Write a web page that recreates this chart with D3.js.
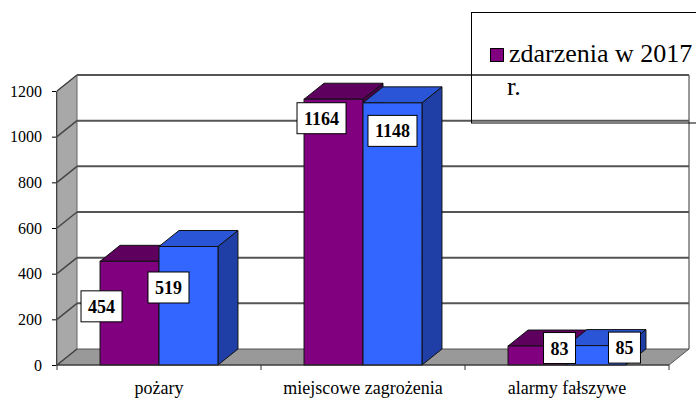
<!DOCTYPE html>
<meta charset="utf-8">
<style>
body { margin: 0; background: #fff; }
svg { display: block; }
</style>
<body></body>
<script src="https://cdnjs.cloudflare.com/ajax/libs/d3/7.8.5/d3.min.js"></script>
<script>

// data
var categories = ["pożary", "miejscowe zagrożenia", "alarmy fałszywe"];
var series = ["zdarzenia w 2017 r.", "zdarzenia w 2018 r."];
var values2017 = [454, 1164, 83];
var values2018 = [519, 1148, 85];
var yTicks = [0, 200, 400, 600, 800, 1000, 1200];

// label nudges (Excel put the boxes by hand, more or less)
var labelNudge = [
  [[-28, 45], [-12, 19], [22, 2]],
  [[-20, 41], [0, 28], [28, 2]]
];

var width = 696, height = 400;
var depthX = 20, depthY = -16;
var serif = "Liberation Serif";

var colors = [
  { front: "#800080", top: "#5e005e", side: "#4a004a" },
  { front: "#3366ff", top: "#2a55d6", side: "#1f3fa6" }
];

var svg = d3.select("body").append("svg")
    .attr("width", width)
    .attr("height", height);

var x = d3.scaleBand().domain(categories).range([57, 669]);
var xs = d3.scaleBand().domain(series).range([0, x.bandwidth()]).paddingOuter(0.73);
var y = d3.scaleLinear().domain([0, 1200]).range([365, 91]);

var x0 = x.range()[0], x1 = x.range()[1];
var yb = y(0), yt = y(1200);

function pts(a) { return a.map(function(p) { return p.join(","); }).join(" "); }

// left side wall
svg.append("polygon")
    .attr("points", pts([[x0, yb], [x0, yt], [x0 + depthX, yt + depthY], [x0 + depthX, yb + depthY]]))
    .attr("fill", "#a8a8a8")
    .attr("stroke", "#666");

// floor
svg.append("polygon")
    .attr("points", pts([[x0, yb], [x1, yb], [x1 + depthX, yb + depthY], [x0 + depthX, yb + depthY]]))
    .attr("fill", "#999")
    .attr("stroke", "#555");

// back wall edge
svg.append("line")
    .attr("x1", x1 + depthX).attr("x2", x1 + depthX)
    .attr("y1", yt + depthY).attr("y2", yb + depthY)
    .attr("stroke", "#333");

// gridlines on back and side walls
var grid = svg.append("g");
grid.selectAll(".back").data(yTicks.slice(1)).enter().append("line")
    .attr("x1", x0 + depthX).attr("x2", x1 + depthX)
    .attr("y1", function(d) { return y(d) + depthY; })
    .attr("y2", function(d) { return y(d) + depthY; })
    .attr("stroke", "#555").attr("stroke-width", 2);
grid.selectAll(".side").data(yTicks).enter().append("line")
    .attr("x1", x0).attr("x2", x0 + depthX)
    .attr("y1", function(d) { return y(d); })
    .attr("y2", function(d) { return y(d) + depthY; })
    .attr("stroke", "#444").attr("stroke-width", 1.5);

// bars
var allValues = [values2017, values2018];
var bars = svg.append("g");
var labels = svg.append("g");

categories.forEach(function(c, ci) {
  series.forEach(function(s, si) {
    var v = allValues[si][ci];
    var bx = x(c) + xs(s), bw = xs.bandwidth();
    var top = y(v), base = y(0);
    var g = bars.append("g").attr("stroke", "#111").attr("stroke-width", 1);
    g.append("polygon")
        .attr("points", pts([[bx + bw, base], [bx + bw, top], [bx + bw + depthX, top + depthY], [bx + bw + depthX, base + depthY]]))
        .attr("fill", colors[si].side);
    g.append("polygon")
        .attr("points", pts([[bx, top], [bx + bw, top], [bx + bw + depthX, top + depthY], [bx + depthX, top + depthY]]))
        .attr("fill", colors[si].top);
    g.append("rect")
        .attr("x", bx).attr("y", top)
        .attr("width", bw).attr("height", base - top)
        .attr("fill", colors[si].front);
  });
});

categories.forEach(function(c, ci) {
  series.forEach(function(s, si) {
    var v = allValues[si][ci];
    var cx = x(c) + xs(s) + xs.bandwidth() / 2 + labelNudge[si][ci][0];
    var cy = y(v) + labelNudge[si][ci][1];
    var lg = labels.append("g");
    var t = lg.append("text")
        .attr("x", cx).attr("y", cy + 6.5)
        .attr("text-anchor", "middle")
        .attr("font-family", serif)
        .attr("font-size", 18)
        .attr("font-weight", "bold")
        .text(v);
    var w = t.node().getComputedTextLength();
    lg.insert("rect", "text")
        .attr("x", cx - w / 2 - 7).attr("y", cy - 15.5)
        .attr("width", w + 14).attr("height", 31)
        .attr("fill", "#fff").attr("stroke", "#000");
  });
});

// y axis
var yAxis = svg.append("g")
    .attr("transform", "translate(" + (x0 - 1) + ",0)")
    .call(d3.axisLeft(y).tickValues(yTicks).tickSize(4).tickPadding(10).tickFormat(d3.format("d")));
yAxis.attr("font-family", serif).attr("font-size", 16);
yAxis.select(".domain").attr("stroke", "#444");
yAxis.selectAll("text").attr("fill", "#000");

// x axis: boundary ticks and category names
var bounds = categories.map(function(c) { return x(c); }).concat([x1]);
svg.append("line")
    .attr("x1", x0).attr("x2", x1).attr("y1", yb).attr("y2", yb)
    .attr("stroke", "#333");
svg.selectAll(".xtick").data(bounds).enter().append("line")
    .attr("x1", function(d) { return d; }).attr("x2", function(d) { return d; })
    .attr("y1", yb).attr("y2", yb + 5)
    .attr("stroke", "#333");
svg.selectAll(".xlabel").data(categories).enter().append("text")
    .attr("x", function(d) { return x(d) + x.bandwidth() / 2; })
    .attr("y", 394)
    .attr("text-anchor", "middle")
    .attr("font-family", serif)
    .attr("font-size", 18)
    .text(function(d) { return d; });

// legend (only first entry fits in the box)
var legend = svg.append("g");
legend.append("rect")
    .attr("x", 471.5).attr("y", 12.5)
    .attr("width", 260).attr("height", 110.5)
    .attr("fill", "none").attr("stroke", "#000");
legend.append("rect")
    .attr("x", 490.5).attr("y", 48.5)
    .attr("width", 13).attr("height", 13)
    .attr("fill", colors[0].front).attr("stroke", "#000");
legend.append("text")
    .attr("x", 509).attr("y", 62)
    .attr("font-family", serif)
    .attr("font-size", 26)
    .text("zdarzenia w 2017");
legend.append("text")
    .attr("x", 507).attr("y", 95)
    .attr("font-family", serif)
    .attr("font-size", 26)
    .text("r.");

</script>
